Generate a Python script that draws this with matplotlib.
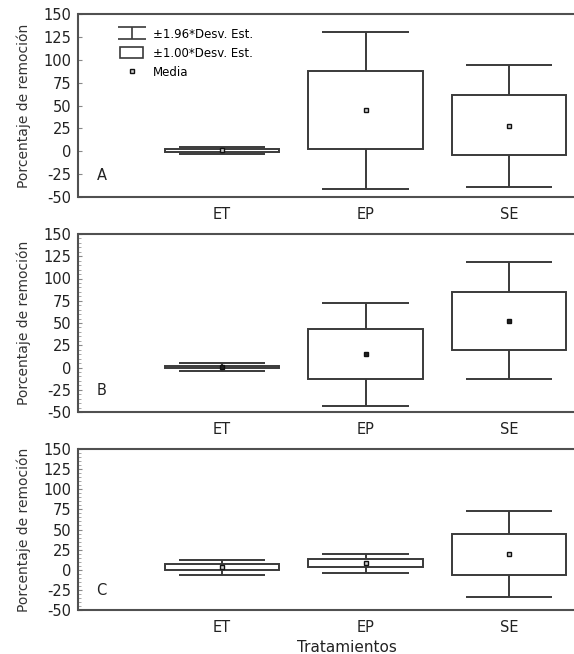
import matplotlib
matplotlib.use("Agg")
import matplotlib.pyplot as plt
from matplotlib.patches import Rectangle
from matplotlib.lines import Line2D
from matplotlib.ticker import MultipleLocator
import numpy as np

plt.rcParams['font.family'] = ['DejaVu Sans']
plt.rcParams['axes.unicode_minus'] = False

tratamientos = ["ET", "EP", "SE"]
paneles = ["A", "B", "C"]

# panel A
mediaA = [1, 45, 28]
cajaBajaA = [-1, 3, -4]
cajaAltaA = [3, 88, 61]
bigoteBajoA = [-3, -41, -39]
bigoteAltoA = [5, 130, 94]

# panel B
mediaB = [1, 15, 52]
cajaBajaB = [0, -13, 20]
cajaAltaB = [2, 43, 85]
bigoteBajoB = [-4, -43, -13]
bigoteAltoB = [5, 73, 119]

# panel C
mediaC = [3, 8, 19]
cajaBajaC = [0, 3, -6]
cajaAltaC = [7, 13, 45]
bigoteBajoC = [-6, -4, -34]
bigoteAltoC = [12, 20, 73]

yticks = [-50, -25, 0, 25, 50, 75, 100, 125, 150]

col = '#3a3a3a'
W, H = 574, 654
fig = plt.figure(figsize=(W / 100, H / 100), dpi=100)

# axes boxes in pixels: (top, bottom)
cajasPx = [(14, 197), (234, 412), (449, 610)]
left_px, right_px = 78.5, 652.5

datos = [
    (mediaA, cajaBajaA, cajaAltaA, bigoteBajoA, bigoteAltoA, '#d0d0d0'),
    (mediaB, cajaBajaB, cajaAltaB, bigoteBajoB, bigoteAltoB, '#222222'),
    (mediaC, cajaBajaC, cajaAltaC, bigoteBajoC, bigoteAltoC, '#d0d0d0'),
]

for i, (top, bot) in enumerate(cajasPx):
    ax = fig.add_axes([left_px / W, 1 - bot / H, (right_px - left_px) / W, (bot - top) / H])
    media, cb, ca, bb, ba, mfc = datos[i]
    x = np.arange(len(tratamientos))
    cb = np.array(cb); ca = np.array(ca)
    ax.bar(x, ca - cb, bottom=cb, width=0.8, fill=False, edgecolor=col, linewidth=1.4, zorder=2)
    ax.vlines(x, ca, ba, color=col, linewidth=1.4, zorder=2)
    ax.vlines(x, bb, cb, color=col, linewidth=1.4, zorder=2)
    ax.hlines(ba, x - 0.3, x + 0.3, color=col, linewidth=1.4, zorder=2)
    ax.hlines(bb, x - 0.3, x + 0.3, color=col, linewidth=1.4, zorder=2)
    ax.plot(x, media, linestyle='none', marker='s', markersize=3.0, markerfacecolor=mfc,
            markeredgecolor='#111111', markeredgewidth=1.0, zorder=3)

    ax.set_xlim(-1, 3)
    ax.set_ylim(-50, 150)
    ax.set_yticks(yticks)
    ax.set_xticks(x)
    ax.set_xticklabels(tratamientos, fontsize=10.5, color='#222222')
    ax.tick_params(axis='x', length=0, pad=7)
    ax.tick_params(axis='y', direction='in', length=3, width=0.8, colors='#888888',
                   labelcolor='#222222', labelsize=10.5, pad=5)
    if i > 0:
        ax.yaxis.set_minor_locator(MultipleLocator(5))
        ax.tick_params(axis='y', which='minor', direction='in', length=2, width=0.6, colors='#999999')
    for s in ['left', 'top', 'bottom']:
        ax.spines[s].set_color('#505050')
        ax.spines[s].set_linewidth(1.5)
    ax.spines['right'].set_visible(False)
    ax.set_ylabel("Porcentaje de remoción", fontsize=10, color='#333333', labelpad=9)
    ax.text(0.04, 0.12, paneles[i], transform=ax.transAxes, fontsize=10.5,
            color='#222222', ha='center', va='center')

    if i == 0:
        eb = ax.errorbar([np.nan], [np.nan], yerr=[1], fmt='none', ecolor=col,
                         elinewidth=1.2, capsize=10, capthick=1.2)
        h2 = Rectangle((0, 0), 1, 1, facecolor='white', edgecolor=col, linewidth=1.2)
        h3 = Line2D([], [], linestyle='none', marker='s', markersize=3.0,
                    markerfacecolor='#d0d0d0', markeredgecolor='#111111')
        ax.legend([eb, h2, h3], ["±1.96*Desv. Est.", "±1.00*Desv. Est.", "Media"],
                  loc='upper left', bbox_to_anchor=(0.072, 0.925), frameon=False,
                  fontsize=8.5, handlelength=2.0, handleheight=1.1, handletextpad=0.8,
                  labelspacing=0.5, borderpad=0, borderaxespad=0)

fig.text(347 / W, 1 - 647 / H, "Tratamientos", fontsize=11, color='#222222',
         ha='center', va='center')

fig.savefig("out.png", dpi=100)
